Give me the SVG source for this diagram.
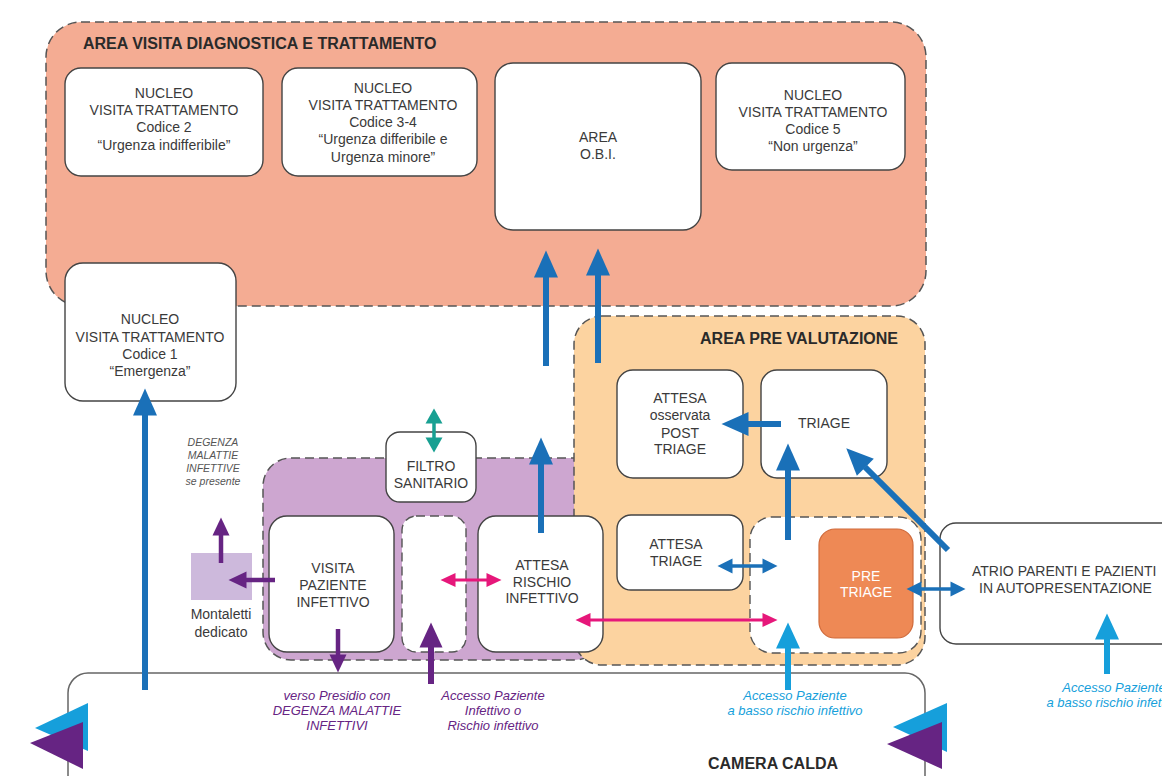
<svg xmlns="http://www.w3.org/2000/svg" width="1162" height="776" viewBox="0 0 1162 776">
<style>
.box{fill:#fff;stroke:#444;stroke-width:1.4}
.area{stroke:#555;stroke-width:1.5;stroke-dasharray:9 5}
.t{font-family:"Liberation Sans",Arial,sans-serif;font-size:14px;fill:#3a3a3a;text-anchor:middle}
.ts{font-family:"Liberation Sans",Arial,sans-serif;font-size:14px;fill:#3a3a3a;text-anchor:start}
.title{font-family:"Liberation Sans",Arial,sans-serif;font-size:16px;font-weight:bold;fill:#2a2a2a}
.itg{font-family:"Liberation Sans",Arial,sans-serif;font-size:10.5px;font-style:italic;fill:#555;text-anchor:middle}
.itp{font-family:"Liberation Sans",Arial,sans-serif;font-size:13px;font-style:italic;fill:#662483;text-anchor:middle}
.itb{font-family:"Liberation Sans",Arial,sans-serif;font-size:13px;font-style:italic;fill:#169FDB;text-anchor:middle}
.blue{stroke:#1A70B8;stroke-width:6;fill:none;marker-end:url(#hBlue)}
.lblue{stroke:#169FDB;stroke-width:6;fill:none;marker-end:url(#hLBlue)}
.blue2{stroke:#1A70B8;stroke-width:3.5;fill:none;marker-start:url(#hBlueS);marker-end:url(#hBlueS)}
.pink{stroke:#E6177A;stroke-width:3;fill:none;marker-start:url(#hPink);marker-end:url(#hPink)}
.teal{stroke:#18A092;stroke-width:3.5;fill:none;marker-start:url(#hTeal);marker-end:url(#hTeal)}
.purp{stroke:#662483;stroke-width:4.5;fill:none;marker-end:url(#hPurp)}
.purpB{stroke:#662483;stroke-width:6;fill:none;marker-end:url(#hPurpB)}
</style>
<defs>
<marker id="hBlue" markerUnits="userSpaceOnUse" markerWidth="30" markerHeight="30" refX="0.5" refY="12" orient="auto-start-reverse" overflow="visible"><path d="M0,0 L27,12 L0,24 z" fill="#1A70B8"/></marker>
<marker id="hLBlue" markerUnits="userSpaceOnUse" markerWidth="30" markerHeight="30" refX="0.5" refY="12" orient="auto-start-reverse" overflow="visible"><path d="M0,0 L26,12 L0,24 z" fill="#169FDB"/></marker>
<marker id="hBlueS" markerUnits="userSpaceOnUse" markerWidth="20" markerHeight="20" refX="0.5" refY="7.5" orient="auto-start-reverse" overflow="visible"><path d="M0,0 L15,7.5 L0,15 z" fill="#1A70B8"/></marker>
<marker id="hPink" markerUnits="userSpaceOnUse" markerWidth="20" markerHeight="20" refX="0.5" refY="7" orient="auto-start-reverse" overflow="visible"><path d="M0,0 L15,7 L0,14 z" fill="#E6177A"/></marker>
<marker id="hTeal" markerUnits="userSpaceOnUse" markerWidth="20" markerHeight="20" refX="0.5" refY="8.5" orient="auto-start-reverse" overflow="visible"><path d="M0,0 L15,8.5 L0,17 z" fill="#18A092"/></marker>
<marker id="hPurp" markerUnits="userSpaceOnUse" markerWidth="20" markerHeight="20" refX="0.5" refY="8.5" orient="auto-start-reverse" overflow="visible"><path d="M0,0 L18,8.5 L0,17 z" fill="#662483"/></marker>
<marker id="hPurpB" markerUnits="userSpaceOnUse" markerWidth="30" markerHeight="30" refX="0.5" refY="11.5" orient="auto-start-reverse" overflow="visible"><path d="M0,0 L25,11.5 L0,23 z" fill="#662483"/></marker>
</defs>
<rect width="1162" height="776" fill="#fff"/>

<g id="area-visita">
<rect class="area" x="46" y="22" width="880" height="284" rx="35" fill="#F4AC93"/>
<text class="title" x="83" y="49">AREA VISITA DIAGNOSTICA E TRATTAMENTO</text>
</g>

<g id="area-infettivo">
<rect class="area" x="263" y="458" width="340" height="202" rx="28" fill="#CDA6D0"/>
</g>

<g id="area-pre">
<rect class="area" x="574" y="316" width="351" height="349" rx="28" fill="#FCD3A0"/>
<text class="title" x="898" y="344" style="text-anchor:end">AREA PRE VALUTAZIONE</text>
</g>

<g id="camera-calda">
<rect x="68" y="673" width="857" height="125" rx="20" fill="#fff" stroke="#666" stroke-width="1.5"/>
<text class="title" x="773" y="769" style="text-anchor:middle">CAMERA CALDA</text>
</g>

<g id="nucleo-2">
<rect class="box" x="65" y="68" width="198" height="108" rx="16"/>
<text class="t" x="164" y="98">NUCLEO</text>
<text class="t" x="164" y="115">VISITA TRATTAMENTO</text>
<text class="t" x="164" y="132">Codice 2</text>
<text class="t" x="164" y="150">“Urgenza indifferibile”</text>
</g>

<g id="nucleo-34">
<rect class="box" x="282" y="68" width="195" height="108" rx="16"/>
<text class="t" x="383" y="93">NUCLEO</text>
<text class="t" x="383" y="110">VISITA TRATTAMENTO</text>
<text class="t" x="383" y="127">Codice 3-4</text>
<text class="t" x="383" y="144">“Urgenza differibile e</text>
<text class="t" x="383" y="162">Urgenza minore”</text>
</g>

<g id="area-obi">
<rect class="box" x="495" y="63" width="206" height="167" rx="18"/>
<text class="t" x="598" y="142">AREA</text>
<text class="t" x="598" y="159">O.B.I.</text>
</g>

<g id="nucleo-5">
<rect class="box" x="716" y="63" width="189" height="107" rx="16"/>
<text class="t" x="813" y="100">NUCLEO</text>
<text class="t" x="813" y="117">VISITA TRATTAMENTO</text>
<text class="t" x="813" y="134">Codice 5</text>
<text class="t" x="813" y="151">“Non urgenza”</text>
</g>

<g id="nucleo-1">
<rect class="box" x="65" y="263" width="171" height="138" rx="18"/>
<text class="t" x="150" y="324">NUCLEO</text>
<text class="t" x="150" y="342">VISITA TRATTAMENTO</text>
<text class="t" x="150" y="359">Codice 1</text>
<text class="t" x="150" y="376">“Emergenza”</text>
</g>

<g id="degenza-label">
<text class="itg" x="213" y="446">DEGENZA</text>
<text class="itg" x="213" y="459">MALATTIE</text>
<text class="itg" x="213" y="472">INFETTIVE</text>
<text class="itg" x="213" y="485">se presente</text>
</g>

<g id="filtro">
<rect class="box" x="386" y="432" width="90" height="70" rx="14"/>
<text class="t" x="431" y="471">FILTRO</text>
<text class="t" x="431" y="488">SANITARIO</text>
</g>

<g id="visita-infettivo">
<rect class="box" x="269" y="516" width="125" height="136" rx="18"/>
<text class="t" x="333" y="573">VISITA</text>
<text class="t" x="333" y="590">PAZIENTE</text>
<text class="t" x="333" y="607">INFETTIVO</text>
</g>

<g id="corridoio-infettivo">
<rect x="402" y="516" width="64" height="136" rx="14" fill="#fff" stroke="#555" stroke-width="1.4" stroke-dasharray="9 5"/>
</g>

<g id="attesa-rischio">
<rect class="box" x="478" y="516" width="125" height="136" rx="18"/>
<text class="t" x="542" y="570">ATTESA</text>
<text class="t" x="542" y="587">RISCHIO</text>
<text class="t" x="542" y="603">INFETTIVO</text>
</g>

<g id="montaletti">
<rect x="191" y="553" width="61" height="47" fill="#CDB9DC"/>
<text class="t" x="221" y="619">Montaletti</text>
<text class="t" x="221" y="637">dedicato</text>
</g>

<g id="attesa-post">
<rect class="box" x="617" y="370" width="126" height="108" rx="16"/>
<text class="t" x="680" y="403">ATTESA</text>
<text class="t" x="680" y="420">osservata</text>
<text class="t" x="680" y="438">POST</text>
<text class="t" x="680" y="454">TRIAGE</text>
</g>

<g id="triage">
<rect class="box" x="761" y="370" width="126" height="108" rx="16"/>
<text class="t" x="824" y="428">TRIAGE</text>
</g>

<g id="attesa-triage">
<rect class="box" x="617" y="515" width="126" height="75" rx="14"/>
<text class="t" x="676" y="549">ATTESA</text>
<text class="t" x="676" y="566">TRIAGE</text>
</g>

<g id="zona-pretriage">
<rect x="750" y="517" width="171" height="136" rx="22" fill="#fff" stroke="#555" stroke-width="1.4" stroke-dasharray="9 5"/>
</g>

<g id="pre-triage">
<rect x="819" y="529" width="94" height="109" rx="16" fill="#EE8955" stroke="#D06A3A" stroke-width="1.2"/>
<text class="t" x="866" y="581" style="fill:#fff">PRE</text>
<text class="t" x="866" y="597" style="fill:#fff">TRIAGE</text>
</g>

<g id="atrio">
<rect class="box" x="940" y="523" width="260" height="121" rx="16"/>
<text class="ts" x="972" y="576">ATRIO PARENTI E PAZIENTI</text>
<text class="ts" x="979" y="593">IN AUTOPRESENTAZIONE</text>
</g>

<g id="labels-accesso">
<text class="itp" x="337" y="700">verso Presidio con</text>
<text class="itp" x="337" y="715">DEGENZA MALATTIE</text>
<text class="itp" x="337" y="730">INFETTIVI</text>
<text class="itp" x="493" y="700">Accesso Paziente</text>
<text class="itp" x="493" y="715">Infettivo o</text>
<text class="itp" x="493" y="730">Rischio infettivo</text>
<text class="itb" x="795" y="700">Accesso Paziente</text>
<text class="itb" x="795" y="715">a basso rischio infettivo</text>
<text class="itb" x="1114" y="692">Accesso Paziente</text>
<text class="itb" x="1114" y="707">a basso rischio infettivo</text>
</g>

<g id="connectors">
<line class="blue" x1="145" y1="690" x2="145" y2="415"/>
<line class="blue" x1="546" y1="366" x2="546" y2="277"/>
<line class="blue" x1="598" y1="363" x2="598" y2="275"/>
<line class="blue" x1="541" y1="533" x2="541" y2="464"/>
<line class="blue" x1="781" y1="424" x2="748" y2="424"/>
<line class="blue" x1="788" y1="540" x2="788" y2="470"/>
<line class="blue" x1="948" y1="550" x2="865" y2="467"/>
<line class="lblue" x1="788" y1="690" x2="788" y2="648"/>
<line class="lblue" x1="1107" y1="674" x2="1107" y2="639"/>
<line class="blue2" x1="732" y1="566" x2="763" y2="566"/>
<line class="blue2" x1="921" y1="589" x2="951" y2="589"/>
<line class="pink" x1="455" y1="580" x2="487" y2="580"/>
<line class="pink" x1="590" y1="620" x2="763" y2="620"/>
<line class="teal" x1="434" y1="423" x2="434" y2="438"/>
<line class="purp" x1="275" y1="580" x2="246" y2="580"/>
<line class="purp" x1="221" y1="563" x2="221" y2="535"/>
<line class="purp" x1="338" y1="629" x2="338" y2="655"/>
<line class="purpB" x1="431" y1="684" x2="431" y2="647"/>
</g>

<g id="ingresso-sx">
<polygon points="88,703 88,751 35,728" fill="#169FDB"/>
<polygon points="83,722 83,769 30,743" fill="#662483"/>
</g>
<g id="ingresso-dx">
<polygon points="947,703 947,752 893,727" fill="#169FDB"/>
<polygon points="942,722 942,769 887,744" fill="#662483"/>
</g>
</svg>
